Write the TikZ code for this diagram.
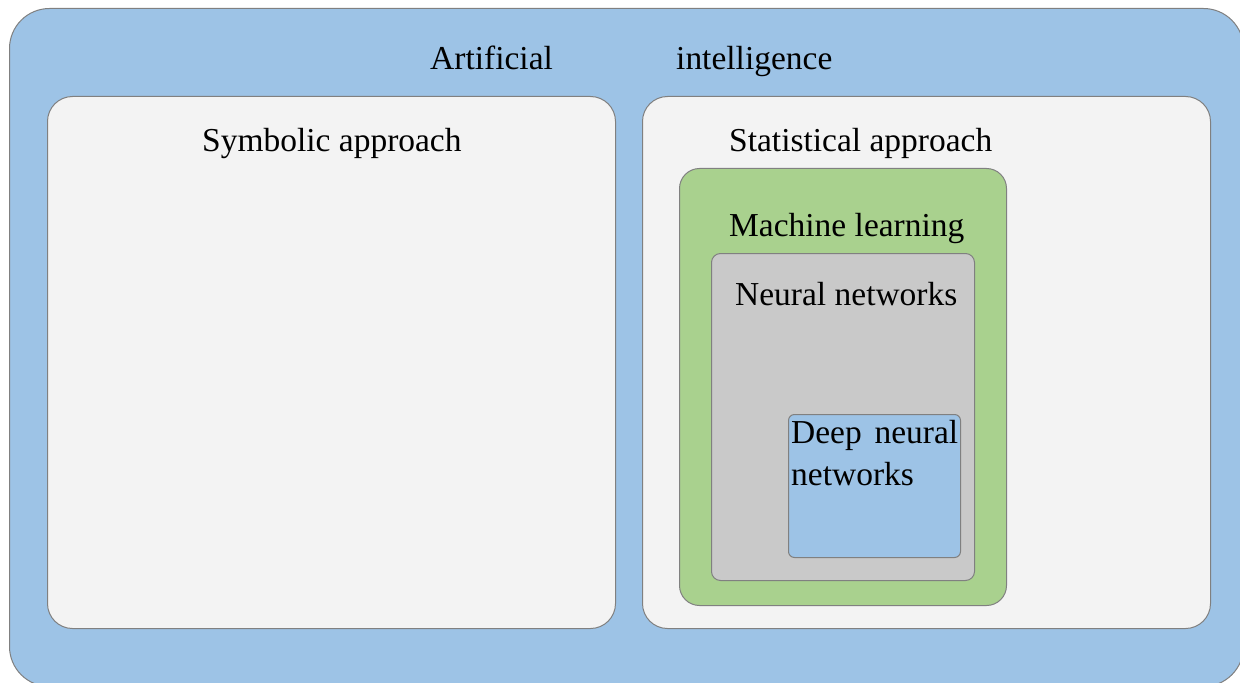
\documentclass[tikz,border=0pt]{standalone}
\usepackage{fontspec}
\setmainfont{Liberation Serif}
\begin{document}
\begin{tikzpicture}[x=1bp,y=-1bp,
  panel/.style={draw=black!50, line width=1bp, anchor=north west, inner sep=0pt},
  label/.style={anchor=base west, inner sep=0pt, font=\fontsize{33.6}{40}\selectfont},
]
\definecolor{aiblue}{HTML}{9DC3E6}
\definecolor{panelgray}{HTML}{F3F3F3}
\definecolor{mlgreen}{HTML}{A9D18E}
\definecolor{nngray}{HTML}{C9C9C9}
\useasboundingbox (0,0) rectangle (1240,683);
\begin{scope}
\clip (0,0) rectangle (1240,683);
% outer field
\node[panel, fill=aiblue, rounded corners=40bp, minimum width=1234bp, minimum height=678bp] (ai) at (9,8) {};
\end{scope}
% two approaches
\node[panel, fill=panelgray, rounded corners=25bp, minimum width=568bp, minimum height=532bp] (sym) at (47,96) {};
\node[panel, fill=panelgray, rounded corners=25bp, minimum width=568bp, minimum height=532bp] (stat) at (642,96) {};
% nested learning boxes
\node[panel, fill=mlgreen, rounded corners=20bp, minimum width=327bp, minimum height=437bp] (ml) at (679,168) {};
\node[panel, fill=nngray, rounded corners=9bp, minimum width=263bp, minimum height=327bp] (nn) at (711,253) {};
\node[panel, fill=aiblue, rounded corners=6bp, minimum width=172bp, minimum height=143bp] (dnn) at (788,414) {};
% labels
\node[label] (t1) at (430,70) {Artificial};
\node[label] (t2) at (676,70) {intelligence};
\node[label] (tsym) at (202,152) {Symbolic approach};
\node[label] (tstat) at (729,152) {Statistical approach};
\node[label] (tml) at (729,237) {Machine learning};
\node[label] (tnn) at (735,305) {Neural networks};
\node[label, anchor=north west] (tdnn) at (791,420) {\parbox[t]{167bp}{\fontsize{33.6}{42}\selectfont Deep\hfill neural\\networks}};
\end{tikzpicture}
\end{document}
